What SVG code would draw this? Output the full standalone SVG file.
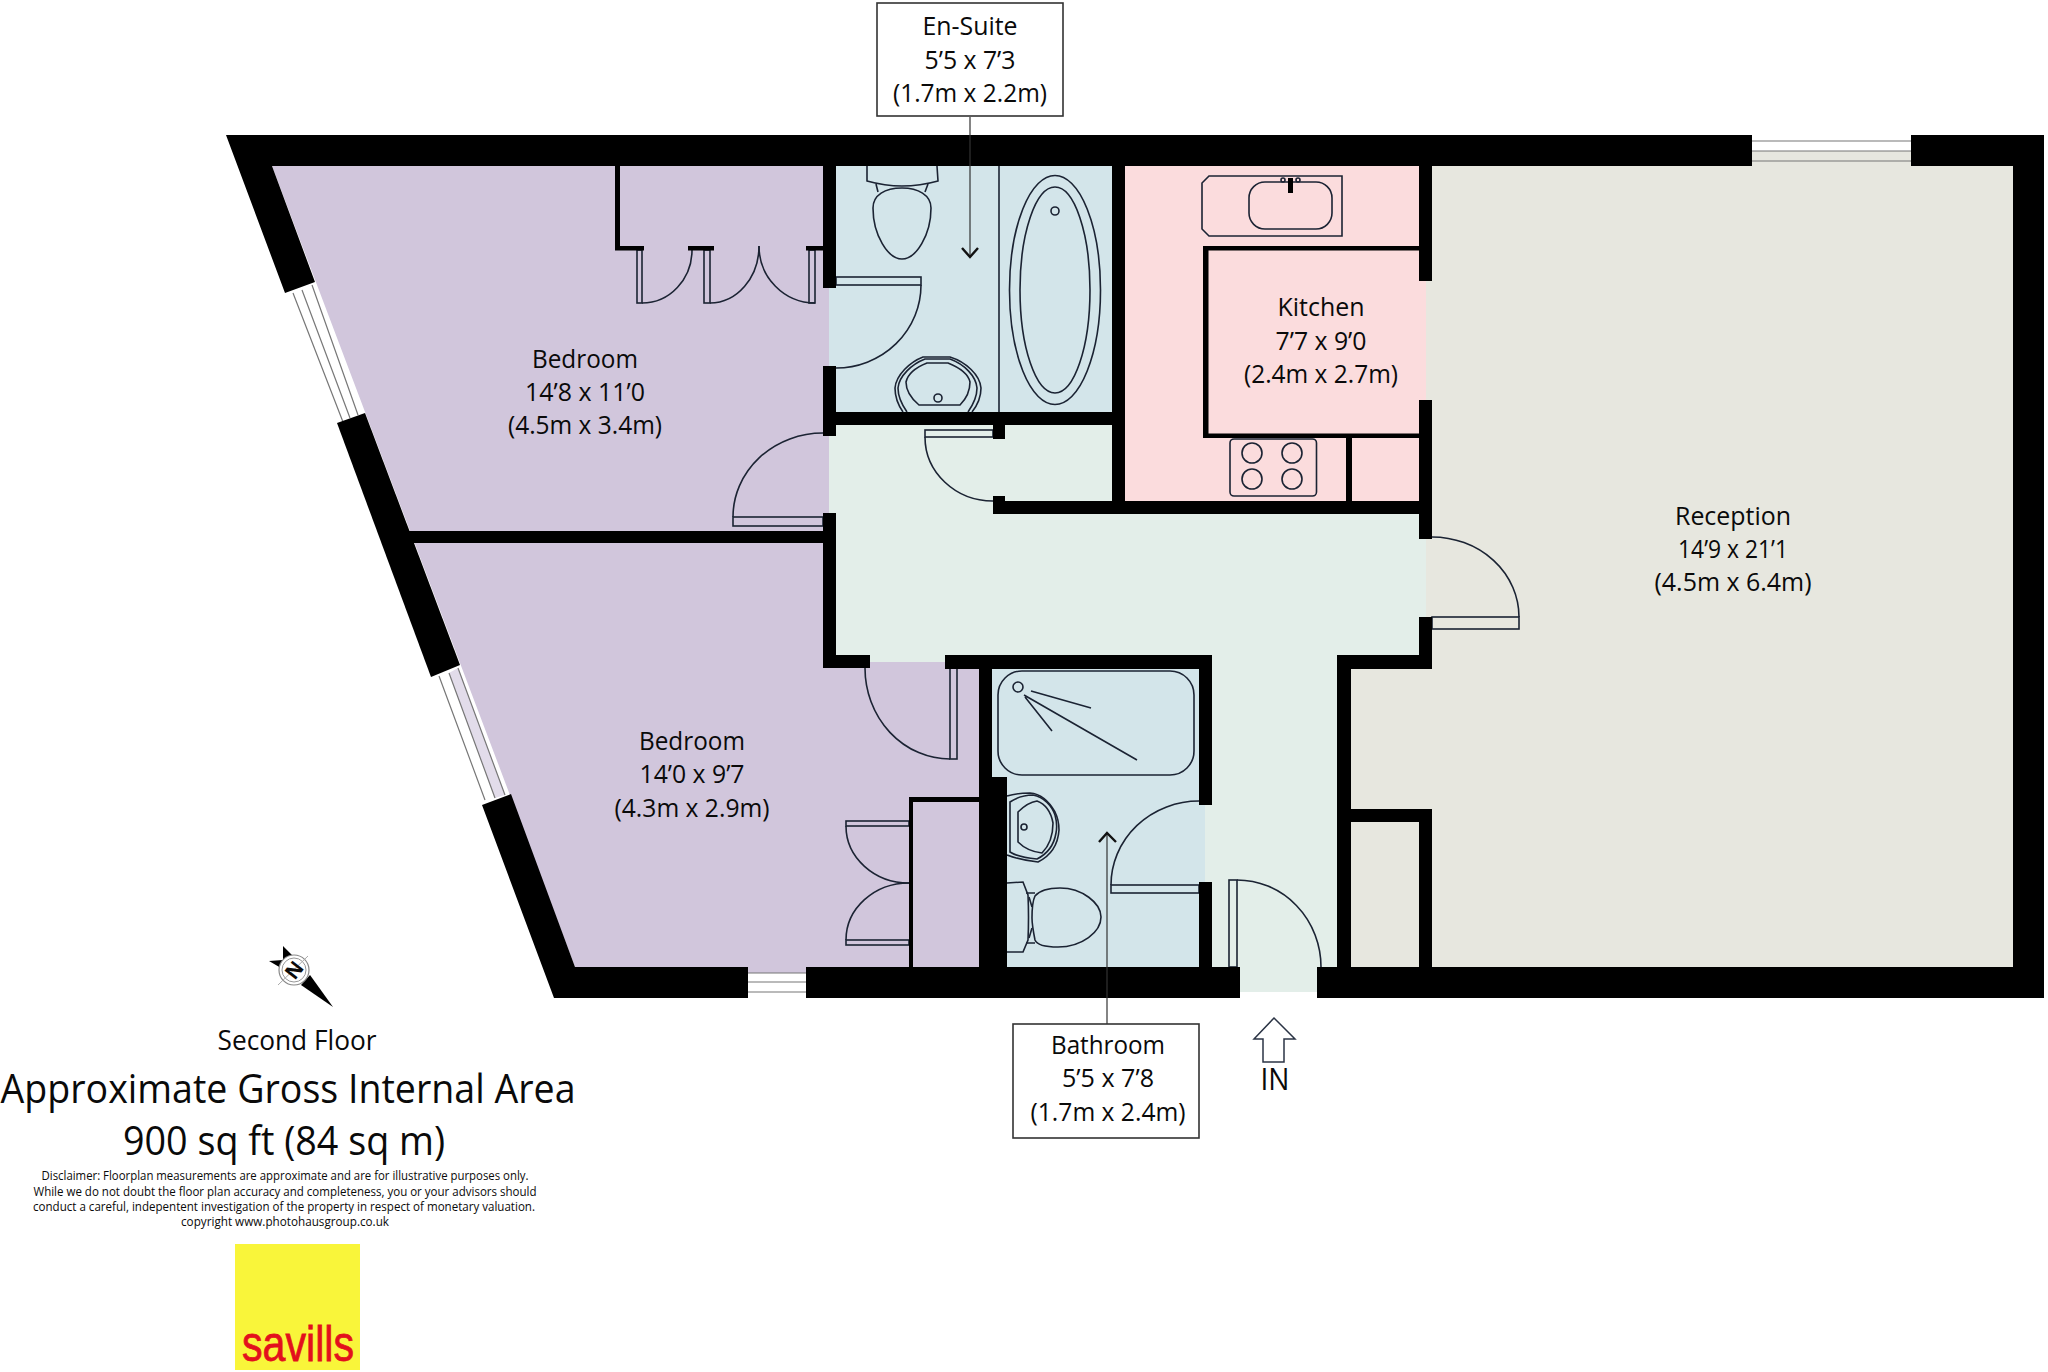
<svg xmlns="http://www.w3.org/2000/svg" width="2048" height="1372" viewBox="0 0 2048 1372">
<style>
text{font-family:"Open Sans","Noto Sans",sans-serif;fill:#0a0a0a;text-anchor:middle}
.r{font-size:25px}
.d{font-size:12.5px;font-weight:500}
.w{fill:#000}
.f{fill:none;stroke:#1b2333;stroke-width:1.6}
.t{fill:none;stroke:#333;stroke-width:1.2}
.g{fill:none;stroke:#777;stroke-width:1.2}
.c{fill:none;stroke:#111;stroke-width:2.4}
.b{fill:#fff;stroke:#333;stroke-width:1.6}
</style>
<rect width="2048" height="1372" fill="#fff"/>

<g id="fills">
<path id="bedrooms-fill" fill="#d1c6dc" d="M272,166H829V662H979V967H575Z"/>
<path fill="#e2dcea" d="M449,673L458,668L505,795L495,798Z"/>
<rect fill="#d1c6dc" x="748" y="960" width="58" height="13"/>
<rect id="ensuite-fill" fill="#d3e5ea" x="829" y="166" width="283" height="246"/>
<path id="hall-fill" fill="#e3eee9" d="M829,425H1112V514H1426V655H1337V967H1317V992H1240V967H1205V669H945V662H870V655H829Z"/>
<rect id="kitchen-fill" fill="#fbdcdd" x="1125" y="166" width="301" height="335"/>
<path id="reception-fill" fill="#e7e7df" d="M1426,166H1752V151H1911V166H2013V967H1351V669H1426Z"/>
<rect id="bathroom-fill" fill="#d3e5ea" x="992" y="669" width="213" height="298"/>
</g>

<g id="windows">
<path class="g" d="M293,293L343,422M302,290L350,418M312,285L358,415"/>
<path class="g" d="M439,676L485,800M449,673L495,798M458,668L505,795"/>
<path class="g" d="M748,973H806M748,982H806M748,992H806"/>
<path class="g" d="M1752,141H1911M1752,151H1911M1752,161H1911"/>
</g>

<g id="fixtures">
<g id="ensuite-fixtures">
<path class="f" d="M867,166V181Q885,186 902,186Q920,186 938,181L937,166"/>
<path class="f" d="M876,184L878,192M928,184L925,192"/>
<path class="f" d="M902,188C885,188 873,195 873,208C873,235 888,259 902,259C916,259 931,235 931,208C931,195 918,188 902,188Z"/>
<path class="f" d="M999,166V412"/>
<ellipse class="f" cx="1055" cy="290" rx="45.500" ry="114.500"/>
<ellipse class="f" cx="1055" cy="290" rx="35" ry="103"/>
<circle class="f" cx="1055" cy="211" r="4"/>
<path class="f" d="M903,412C896,402 895,395 895,388C896,375 910,362 923,357H950C966,362 980,375 981,388C981,395 980,402 972,412"/>
<path class="f" d="M907,412C900,402 898,396 898,388C899,376 912,364 925,359H950C964,364 976,376 977,388C977,396 975,402 968,412"/>
<path class="f" d="M906,382C908,373 917,367 927,363H948C958,367 968,373 970,382C970,392 965,400 960,405H919C913,400 906,392 906,382Z"/>
<circle class="f" cx="938" cy="398" r="4"/>
</g>
<g id="kitchen-fixtures">
<path class="f" d="M1209,176H1342V236H1209L1202,229V183Z"/>
<rect class="f" x="1249" y="182" width="83" height="47" rx="16"/>
<rect x="1288" y="178" width="5" height="15" fill="#000"/>
<circle class="f" cx="1283" cy="180" r="2"/><circle class="f" cx="1298" cy="180" r="2"/>
<rect class="f" x="1230" y="439" width="86.500" height="57" rx="4"/>
<circle class="f" cx="1252" cy="453" r="10"/><circle class="f" cx="1292" cy="453" r="10"/>
<circle class="f" cx="1252" cy="479" r="10"/><circle class="f" cx="1292" cy="479" r="10"/>
</g>
<g id="bathroom-fixtures">
<rect class="f" x="998" y="671" width="196" height="104" rx="24"/>
<circle class="f" cx="1018" cy="687" r="5"/>
<path class="f" stroke-width="2" d="M1031,691L1091,708M1024,695L1137,760M1025,697L1052,731"/>
<path class="f" d="M1007,796C1014,794 1022,793 1030,793C1042,794 1050,803 1055,812C1058,818 1059,825 1059,830C1058,845 1050,856 1038,862C1028,861 1015,858 1007,855"/>
<path class="f" d="M1010,852V802C1016,798 1024,795 1033,795C1044,797 1052,806 1055,815C1057,822 1057,828 1056,833C1054,845 1047,854 1037,859C1027,858 1016,856 1010,852Z"/>
<path class="f" d="M1018,812C1024,806 1030,802 1037,801C1045,804 1051,812 1053,823C1053,835 1049,846 1042,853C1033,852 1024,848 1018,842Z"/>
<circle class="f" cx="1024" cy="827" r="3"/>
<path class="f" d="M1007,883L1023,882L1028,895Q1029,917 1028,940L1023,952L1007,952"/>
<path class="f" d="M1060,888C1082,888 1101,903 1101,917C1101,932 1082,947 1058,947C1044,947 1037,945 1035,940C1033,930 1032,925 1032,918C1032,905 1033,900 1035,896C1040,890 1050,888 1060,888Z"/>
<path class="f" d="M1026,893H1035M1026,943H1035M1029,897L1032,907M1029,938L1032,928"/>
</g>
</g>

<g id="doors">
<g id="bedroom1-wardrobe-doors">
<rect class="f" x="637" y="250" width="5" height="53"/>
<path class="f" d="M642,303A50,53 0 0 0 692,250"/>
<rect class="f" x="704" y="250" width="6" height="53"/>
<path class="f" d="M710,303A49,57 0 0 0 759,246"/>
<rect class="f" x="809" y="250" width="6" height="53"/>
<path class="f" d="M815,303A56,57 0 0 1 759,246"/>
</g>
<g id="bedroom1-door"><rect class="f" x="733" y="517" width="90" height="9"/><path class="f" d="M733,517A90,84 0 0 1 823,433"/></g>
<g id="ensuite-door"><rect class="f" x="836" y="277" width="85" height="8"/><path class="f" d="M921,285A85,83 0 0 1 836,368"/></g>
<g id="hall-cupboard-door"><rect class="f" x="925" y="430" width="68" height="7"/><path class="f" d="M925,437A68,64 0 0 0 993,501"/></g>
<g id="reception-door"><rect class="f" x="1432" y="617" width="87" height="12"/><path class="f" d="M1519,617A87,80 0 0 0 1432,537"/></g>
<g id="bedroom2-door"><rect class="f" x="950" y="668" width="7" height="91"/><path class="f" d="M950,759A85,91 0 0 1 865,668"/></g>
<g id="bedroom2-wardrobe-doors">
<rect class="f" x="846" y="821" width="63" height="5"/><path class="f" d="M846,826A63,57 0 0 0 909,883"/>
<rect class="f" x="846" y="940" width="63" height="5"/><path class="f" d="M846,940A63,57 0 0 1 909,883"/>
</g>
<g id="bathroom-door"><rect class="f" x="1111" y="885" width="88" height="8"/><path class="f" d="M1111,885A88,84 0 0 1 1199,801"/></g>
<g id="entry-door"><rect class="f" x="1229" y="880" width="8" height="87"/><path class="f" d="M1237,880A84,87 0 0 1 1321,967"/></g>
</g>

<g id="walls">
<path class="w" d="M226,135H1752V166H272L315,282L285,293Z"/>
<rect class="w" x="1911" y="135" width="133" height="31"/>
<rect class="w" x="2013" y="135" width="31" height="863"/>
<path class="w" d="M337,423L365,413L460,665L431,677Z"/>
<path class="w" d="M482,805L511,794L575,967H748V998H554Z"/>
<rect class="w" x="806" y="967" width="434" height="31"/>
<rect class="w" x="1317" y="967" width="727" height="31"/>
<rect class="w" x="823" y="166" width="13" height="122"/>
<rect class="w" x="823" y="366" width="13" height="70"/>
<rect class="w" x="823" y="513" width="13" height="155"/>
<rect class="w" x="823" y="655" width="47" height="13"/>
<rect class="w" x="395" y="531" width="430" height="12"/>
<rect class="w" x="945" y="655" width="267" height="14"/>
<rect class="w" x="1199" y="655" width="13" height="150"/>
<rect class="w" x="1199" y="882" width="13" height="85"/>
<rect class="w" x="979" y="655" width="13" height="315"/>
<rect class="w" x="979" y="777" width="28" height="192"/>
<rect class="w" x="836" y="412" width="288" height="13"/>
<rect class="w" x="1112" y="166" width="13" height="348"/>
<rect class="w" x="993" y="412" width="12" height="27"/>
<rect class="w" x="993" y="496" width="12" height="18"/>
<rect class="w" x="993" y="501" width="439" height="13"/>
<rect class="w" x="1419" y="166" width="13" height="115"/>
<rect class="w" x="1419" y="400" width="13" height="139"/>
<rect class="w" x="1419" y="617" width="13" height="52"/>
<rect class="w" x="1337" y="655" width="95" height="14"/>
<rect class="w" x="1337" y="655" width="14" height="312"/>
<rect class="w" x="1351" y="809" width="81" height="13"/>
<rect class="w" x="1419" y="809" width="13" height="158"/>
<rect class="w" x="1203" y="246" width="216" height="4.500"/>
<rect class="w" x="1203" y="246" width="5.500" height="192"/>
<rect class="w" x="1203" y="433.500" width="216" height="4.500"/>
<rect class="w" x="1346" y="436" width="6" height="66"/>
<rect class="w" x="615" y="166" width="5" height="84"/>
<rect class="w" x="615" y="246" width="29" height="4.500"/>
<rect class="w" x="688" y="246" width="26" height="4.500"/>
<rect class="w" x="806" y="246" width="18" height="4.500"/>
<rect class="w" x="909" y="797" width="70" height="5"/>
<rect class="w" x="909" y="797" width="4" height="171"/>
</g>

<g id="connectors">
<path class="t" d="M970,117V257"/>
<path class="c" d="M962,248L970,257L978,248"/>
<path class="t" d="M1107,833V1024"/>
<path class="c" d="M1099,842L1107,833L1116,842"/>
</g>

<g id="bedroom-1">
<text class="r" x="585" y="368" textLength="106" lengthAdjust="spacingAndGlyphs">Bedroom</text>
<text class="r" x="585" y="401" textLength="120" lengthAdjust="spacingAndGlyphs">14’8 x 11’0</text>
<text class="r" x="585" y="434" textLength="154" lengthAdjust="spacingAndGlyphs">(4.5m x 3.4m)</text>
</g>
<g id="bedroom-2">
<text class="r" x="692" y="750" textLength="106" lengthAdjust="spacingAndGlyphs">Bedroom</text>
<text class="r" x="692" y="783" textLength="105" lengthAdjust="spacingAndGlyphs">14’0 x 9’7</text>
<text class="r" x="692" y="817" textLength="155" lengthAdjust="spacingAndGlyphs">(4.3m x 2.9m)</text>
</g>
<g id="en-suite">
<rect class="b" x="877" y="3" width="186" height="113"/>
<text class="r" x="970" y="35" textLength="95" lengthAdjust="spacingAndGlyphs">En-Suite</text>
<text class="r" x="970" y="69" textLength="91" lengthAdjust="spacingAndGlyphs">5’5 x 7’3</text>
<text class="r" x="970" y="102" textLength="154" lengthAdjust="spacingAndGlyphs">(1.7m x 2.2m)</text>
</g>
<g id="kitchen">
<text class="r" x="1321" y="316" textLength="87" lengthAdjust="spacingAndGlyphs">Kitchen</text>
<text class="r" x="1321" y="350" textLength="91" lengthAdjust="spacingAndGlyphs">7’7 x 9’0</text>
<text class="r" x="1321" y="383" textLength="154" lengthAdjust="spacingAndGlyphs">(2.4m x 2.7m)</text>
</g>
<g id="reception">
<text class="r" x="1733" y="525" textLength="116" lengthAdjust="spacingAndGlyphs">Reception</text>
<text class="r" x="1733" y="558" textLength="110" lengthAdjust="spacingAndGlyphs">14’9 x 21’1</text>
<text class="r" x="1733" y="591" textLength="157" lengthAdjust="spacingAndGlyphs">(4.5m x 6.4m)</text>
</g>
<g id="bathroom">
<rect class="b" x="1013" y="1024" width="186" height="114"/>
<text class="r" x="1108" y="1054" textLength="114" lengthAdjust="spacingAndGlyphs">Bathroom</text>
<text class="r" x="1108" y="1087" textLength="92" lengthAdjust="spacingAndGlyphs">5’5 x 7’8</text>
<text class="r" x="1108" y="1121" textLength="155" lengthAdjust="spacingAndGlyphs">(1.7m x 2.4m)</text>
</g>
<g id="entrance">
<path d="M1274,1018L1295,1039H1284V1062H1263V1039H1254Z" fill="#fff" stroke="#2b3445" stroke-width="1.500"/>
<text x="1275" y="1090" font-size="31" textLength="29" lengthAdjust="spacingAndGlyphs">IN</text>
</g>

<g id="compass">
<path fill="#000" d="M283,946L295,958L281,968L269,961L283,960Z"/>
<path fill="#000" d="M310,975L333,1007L301,985Z"/>
<circle cx="294" cy="970" r="15" fill="#fff" stroke="#888" stroke-width="1.200"/>
<circle cx="294" cy="970" r="12" fill="#fff" stroke="#999" stroke-width="1"/>
<path stroke="#aaa" stroke-width="1" d="M278,985L308,956"/>
<text x="294" y="970" font-size="20" font-weight="700" transform="rotate(128 294 970)" dy="7">N</text>
</g>

<g id="caption">
<text x="297" y="1050" font-size="27" textLength="159" lengthAdjust="spacingAndGlyphs">Second Floor</text>
<text x="288" y="1103" font-size="40" textLength="575" lengthAdjust="spacingAndGlyphs">Approximate Gross Internal Area</text>
<text x="284" y="1155" font-size="40" textLength="322" lengthAdjust="spacingAndGlyphs">900 sq ft (84 sq m)</text>
<text class="d" x="285" y="1180" textLength="487" lengthAdjust="spacingAndGlyphs">Disclaimer: Floorplan measurements are approximate and are for illustrative purposes only.</text>
<text class="d" x="285" y="1196" textLength="503" lengthAdjust="spacingAndGlyphs">While we do not doubt the floor plan accuracy and completeness, you or your advisors should</text>
<text class="d" x="284" y="1211" textLength="502" lengthAdjust="spacingAndGlyphs">conduct a careful, indepentent investigation of the property in respect of monetary valuation.</text>
<text class="d" x="285" y="1226" textLength="208" lengthAdjust="spacingAndGlyphs">copyright www.photohausgroup.co.uk</text>
</g>

<g id="logo">
<rect x="235" y="1244" width="125" height="126" fill="#f9f53a"/>
<text x="298" y="1361" font-size="50" stroke="#e3101c" stroke-width="0.800" style="font-family:'Liberation Sans',Arial,sans-serif;fill:#e3101c" textLength="112" lengthAdjust="spacingAndGlyphs">savills</text>
</g>
</svg>
